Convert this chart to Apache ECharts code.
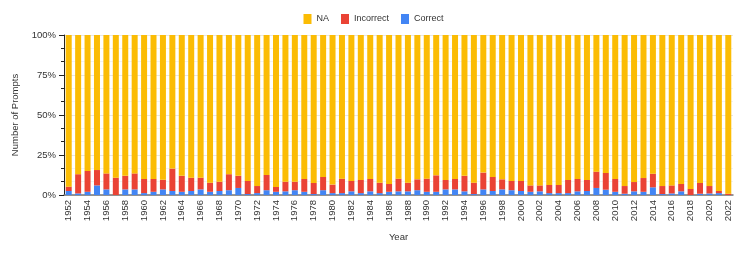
<!DOCTYPE html>
<html><head><meta charset="utf-8">
<script src="https://cdn.jsdelivr.net/npm/echarts@6/dist/echarts.min.js"></script>
<style>html,body{margin:0;padding:0;background:#fff}#c{width:747px;height:253px}</style>
</head><body><div id="c"></div>
<script>
const years = [];
for (let y = 1952; y <= 2022; y++) years.push(String(y));
const correct = [2.5,1,2,6,3.5,0,3.5,3.5,1.2,2,3.5,2.5,2,2.5,3.5,2,2.5,3,4.4,0.6,1.2,3,2,2.3,3,2,0.6,3,1.2,1.2,2.3,1.2,2.3,1.2,2,2.3,2.3,3,2,2,3.5,3.5,2.3,0.6,3.5,2.5,3.5,3,2.5,2,2.3,1.2,1.2,1.2,2.3,2.5,4.4,3.3,2,0.8,2.3,2,4.8,0.6,1,2.3,0,0.8,1,1.2,0];
const incorrect = [2.7,12,13,9.6,10,10.8,8.5,10,8.8,8,6,14,10,8.3,7.3,5.7,5.8,10,7.6,8.2,4.4,9.5,3,6,5.3,8,6.9,8.3,5.3,9,6.5,8.2,7.7,6.5,4.9,7.9,5.4,6.8,8.2,10.3,5.9,6.5,9.7,7.1,10.5,8.8,6.3,5.8,6.3,4,3.7,5.1,5.1,8.2,7.7,6.9,10.2,10.5,8,4.8,5.8,8.6,8.5,5,5,4.6,3.8,6.7,4.6,1.3,0.8];
const na = [94.8,87,85,84.4,86.5,89.2,88,86.5,90,90,90.5,83.5,88,89.2,89.2,92.3,91.7,87,88,91.2,94.4,87.5,95,91.7,91.7,90,92.5,88.7,93.5,89.8,91.2,90.6,90,92.3,93.1,89.8,92.3,90.2,89.8,87.7,90.6,90,88,92.3,86,88.7,90.2,91.2,91.2,94,94,93.7,93.7,90.6,90,90.6,85.4,86.2,90,94.4,91.9,89.4,86.7,94.4,94,93.1,96.2,92.5,94.4,97.5,99.2];
const yTicks = [0,25,50,75,100];

const chart = echarts.init(document.getElementById('c'), null, {renderer:'canvas'});
const font = 'Liberation Sans, Arial, sans-serif';
const mk = (name, data, color) => ({
  name, type:'bar', stack:'all', data, barWidth:6,
  itemStyle:{color}, emphasis:{disabled:true}
});
chart.setOption({
  animation:false,
  textStyle:{fontFamily:font},
  legend:{
    data:['NA','Incorrect','Correct'], top:9, left:'center',
    itemWidth:8, itemHeight:10, itemGap:12, icon:'rect',
    textStyle:{fontSize:9, color:'#333', fontFamily:font}
  },
  grid:{left:64, right:14, top:35, bottom:58},
  xAxis:{
    type:'category', data:years,
    name:'Year', nameLocation:'middle', nameGap:37,
    nameTextStyle:{fontSize:9.5, color:'#333', fontFamily:font},
    axisLine:{lineStyle:{color:'#777', width:1.5}},
    axisTick:{show:false},
    axisLabel:{interval:1, rotate:90, fontSize:9.5, color:'#333', margin:5, fontFamily:font}
  },
  yAxis:{
    type:'value', min:0, max:100, interval:25,
    name:'Number of Prompts', nameLocation:'middle', nameGap:41,
    nameTextStyle:{fontSize:9.5, color:'#333', fontFamily:font},
    axisLine:{show:true, lineStyle:{color:'#222'}},
    axisTick:{show:true, length:5, lineStyle:{color:'#222'}},
    minorTick:{show:true, splitNumber:3, length:3, lineStyle:{color:'#222'}},
    splitLine:{show:true, lineStyle:{color:'#e6e6e6'}},
    minorSplitLine:{show:true, lineStyle:{color:'#f2f2f2'}},
    axisLabel:{fontSize:9.5, color:'#333', fontFamily:font, margin:8,
      formatter: v => yTicks.includes(v) ? v + '%' : ''}
  },
  series:[
    mk('Correct', correct, '#4285F4'),
    mk('Incorrect', incorrect, '#EA4335'),
    mk('NA', na, '#FBBC04')
  ]
});
</script></body></html>
